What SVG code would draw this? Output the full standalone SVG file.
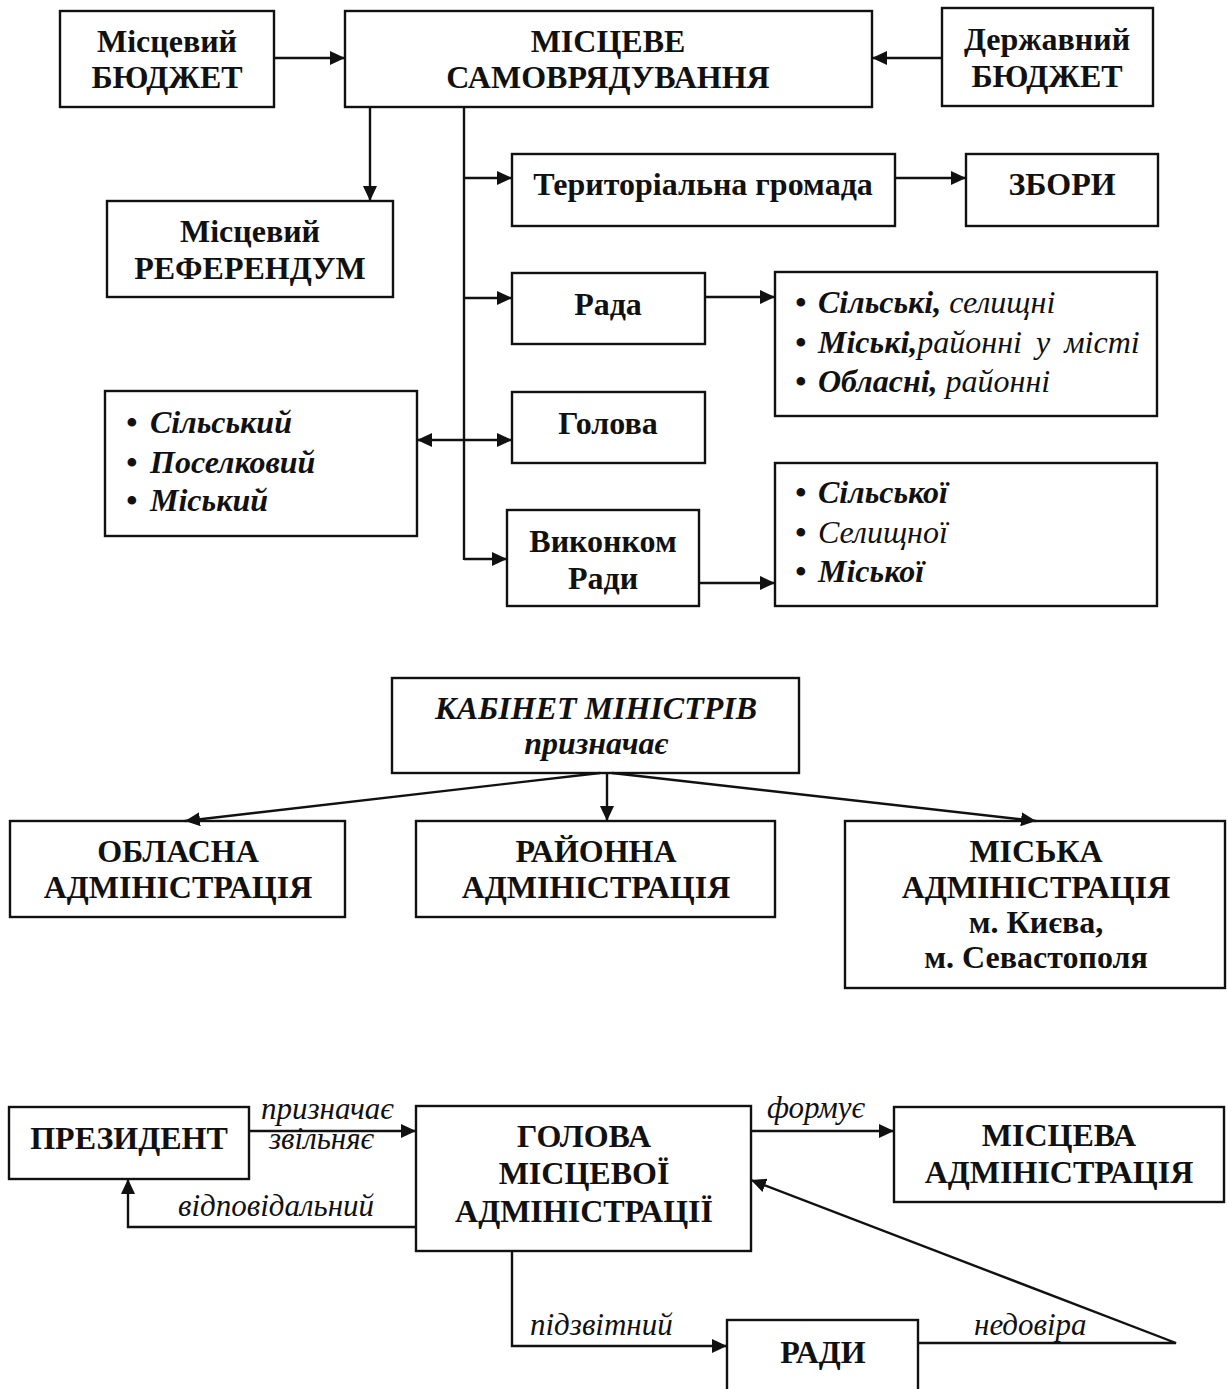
<svg xmlns="http://www.w3.org/2000/svg" width="1227" height="1389" viewBox="0 0 1227 1389">
<style>
.box{fill:#fff;stroke:#111;stroke-width:2.4}
.t{font-family:"Liberation Serif","Times New Roman",serif;font-weight:bold;font-size:32px;fill:#111;text-anchor:middle}
.li{font-family:"Liberation Serif","Times New Roman",serif;font-style:italic;font-size:32px;fill:#111}
.lib{font-weight:bold}
.lbl{font-family:"Liberation Serif","Times New Roman",serif;font-style:italic;font-size:31px;fill:#111}
.c{fill:none;stroke:#111;stroke-width:2.4}
</style>
<defs>
<marker id="ah" markerUnits="userSpaceOnUse" markerWidth="16" markerHeight="14" refX="15" refY="7" orient="auto-start-reverse">
<path d="M0,0 L15,7 L0,14 z" fill="#111"/>
</marker>
</defs>

<g id="n-mb"><rect class="box" x="60" y="11" width="214" height="96"/><text class="t" x="167" y="52">Місцевий</text><text class="t" x="167" y="88">БЮДЖЕТ</text></g>
<g id="n-ms"><rect class="box" x="345" y="11" width="527" height="96"/><text class="t" x="608" y="52">МІСЦЕВЕ</text><text class="t" x="608" y="88">САМОВРЯДУВАННЯ</text></g>
<g id="n-db"><rect class="box" x="942" y="8" width="211" height="98"/><text class="t" x="1047" y="50">Державний</text><text class="t" x="1047" y="87">БЮДЖЕТ</text></g>
<g id="n-ref"><rect class="box" x="107" y="201" width="286" height="96"/><text class="t" x="250" y="242">Місцевий</text><text class="t" x="250" y="279">РЕФЕРЕНДУМ</text></g>
<g id="n-tg"><rect class="box" x="512" y="154" width="383" height="72"/><text class="t" x="703" y="195">Територіальна громада</text></g>
<g id="n-zb"><rect class="box" x="966" y="154" width="192" height="72"/><text class="t" x="1062" y="195">ЗБОРИ</text></g>
<g id="n-rada"><rect class="box" x="512" y="273" width="193" height="71"/><text class="t" x="608" y="315">Рада</text></g>
<g id="n-rl"><rect class="box" x="775" y="272" width="382" height="144"/>
<text class="li" x="795" y="313"><tspan class="lib">•</tspan><tspan class="lib" x="818">Сільські,</tspan><tspan> селищні</tspan></text>
<text class="li" x="795" y="353" word-spacing="6"><tspan class="lib">•</tspan><tspan class="lib" x="818">Міські,</tspan><tspan>районні у місті</tspan></text>
<text class="li" x="795" y="392"><tspan class="lib">•</tspan><tspan class="lib" x="818">Обласні,</tspan><tspan> районні</tspan></text></g>
<g id="n-gl"><rect class="box" x="105" y="391" width="312" height="145"/>
<text class="li lib" x="126" y="433">•<tspan x="150">Сільський</tspan></text>
<text class="li lib" x="126" y="473">•<tspan x="150">Поселковий</tspan></text>
<text class="li lib" x="126" y="511">•<tspan x="150">Міський</tspan></text></g>
<g id="n-golova"><rect class="box" x="512" y="392" width="193" height="71"/><text class="t" x="608" y="434">Голова</text></g>
<g id="n-vk"><rect class="box" x="507" y="510" width="192" height="96"/><text class="t" x="603" y="552">Виконком</text><text class="t" x="603" y="589">Ради</text></g>
<g id="n-vl"><rect class="box" x="775" y="463" width="382" height="143"/>
<text class="li lib" x="795" y="503">•<tspan x="818">Сільської</tspan></text>
<text class="li" x="795" y="543"><tspan class="lib">•</tspan><tspan x="818">Селищної</tspan></text>
<text class="li lib" x="795" y="582">•<tspan x="818">Міської</tspan></text></g>

<g id="n-km"><rect class="box" x="392" y="678" width="407" height="95"/><text class="t" x="596" y="719" font-style="italic">КАБІНЕТ МІНІСТРІВ</text><text class="t" x="596" y="754" font-style="italic" font-size="28">призначає</text></g>
<g id="n-oa"><rect class="box" x="10" y="821" width="335" height="96"/><text class="t" x="178" y="862">ОБЛАСНА</text><text class="t" x="178" y="898">АДМІНІСТРАЦІЯ</text></g>
<g id="n-ra"><rect class="box" x="416" y="821" width="359" height="96"/><text class="t" x="596" y="862">РАЙОННА</text><text class="t" x="596" y="898">АДМІНІСТРАЦІЯ</text></g>
<g id="n-ma"><rect class="box" x="845" y="821" width="380" height="167"/><text class="t" x="1036" y="862">МІСЬКА</text><text class="t" x="1036" y="898">АДМІНІСТРАЦІЯ</text><text class="t" x="1036" y="933">м. Києва,</text><text class="t" x="1036" y="968">м. Севастополя</text></g>

<g id="n-pr"><rect class="box" x="9" y="1107" width="240" height="72"/><text class="t" x="129" y="1149">ПРЕЗИДЕНТ</text></g>
<g id="n-gma"><rect class="box" x="416" y="1106" width="335" height="145"/><text class="t" x="584" y="1147">ГОЛОВА</text><text class="t" x="584" y="1184">МІСЦЕВОЇ</text><text class="t" x="584" y="1222">АДМІНІСТРАЦІЇ</text></g>
<g id="n-mad"><rect class="box" x="894" y="1107" width="330" height="95"/><text class="t" x="1059" y="1146">МІСЦЕВА</text><text class="t" x="1059" y="1183">АДМІНІСТРАЦІЯ</text></g>
<g id="n-radi"><rect class="box" x="727" y="1320" width="191" height="80"/><text class="t" x="823" y="1363">РАДИ</text></g>

<g id="connectors">
<line class="c" x1="274" y1="58" x2="345" y2="58" marker-end="url(#ah)"/>
<line class="c" x1="942" y1="58" x2="872" y2="58" marker-end="url(#ah)"/>
<line class="c" x1="370" y1="107" x2="370" y2="201" marker-end="url(#ah)"/>
<line class="c" x1="464" y1="107" x2="464" y2="560"/>
<line class="c" x1="464" y1="178" x2="512" y2="178" marker-end="url(#ah)"/>
<line class="c" x1="464" y1="298" x2="512" y2="298" marker-end="url(#ah)"/>
<line class="c" x1="464" y1="559" x2="507" y2="559" marker-end="url(#ah)"/>
<line class="c" x1="417" y1="440" x2="512" y2="440" marker-start="url(#ah)" marker-end="url(#ah)"/>
<line class="c" x1="895" y1="178" x2="966" y2="178" marker-end="url(#ah)"/>
<line class="c" x1="705" y1="297" x2="775" y2="297" marker-end="url(#ah)"/>
<line class="c" x1="699" y1="583" x2="775" y2="583" marker-end="url(#ah)"/>
<line class="c" x1="600" y1="773" x2="185" y2="821" marker-end="url(#ah)"/>
<line class="c" x1="607" y1="773" x2="607" y2="821" marker-end="url(#ah)"/>
<line class="c" x1="612" y1="773" x2="1036" y2="821" marker-end="url(#ah)"/>
<line class="c" x1="249" y1="1131" x2="416" y2="1131" marker-end="url(#ah)"/>
<polyline class="c" points="416,1227 128,1227 128,1179" marker-end="url(#ah)"/>
<line class="c" x1="751" y1="1131" x2="894" y2="1131" marker-end="url(#ah)"/>
<polyline class="c" points="512,1251 512,1346 727,1346" marker-end="url(#ah)"/>
<polyline class="c" points="918,1343 1176,1343 751,1180" marker-end="url(#ah)"/>
<text class="lbl" x="261" y="1119" font-size="30">призначає</text>
<text class="lbl" x="269" y="1149" font-size="30">звільняє</text>
<text class="lbl" x="178" y="1216">відповідальний</text>
<text class="lbl" x="767" y="1118">формує</text>
<text class="lbl" x="530" y="1335">підзвітний</text>
<text class="lbl" x="974" y="1335">недовіра</text>
</g>
</svg>
